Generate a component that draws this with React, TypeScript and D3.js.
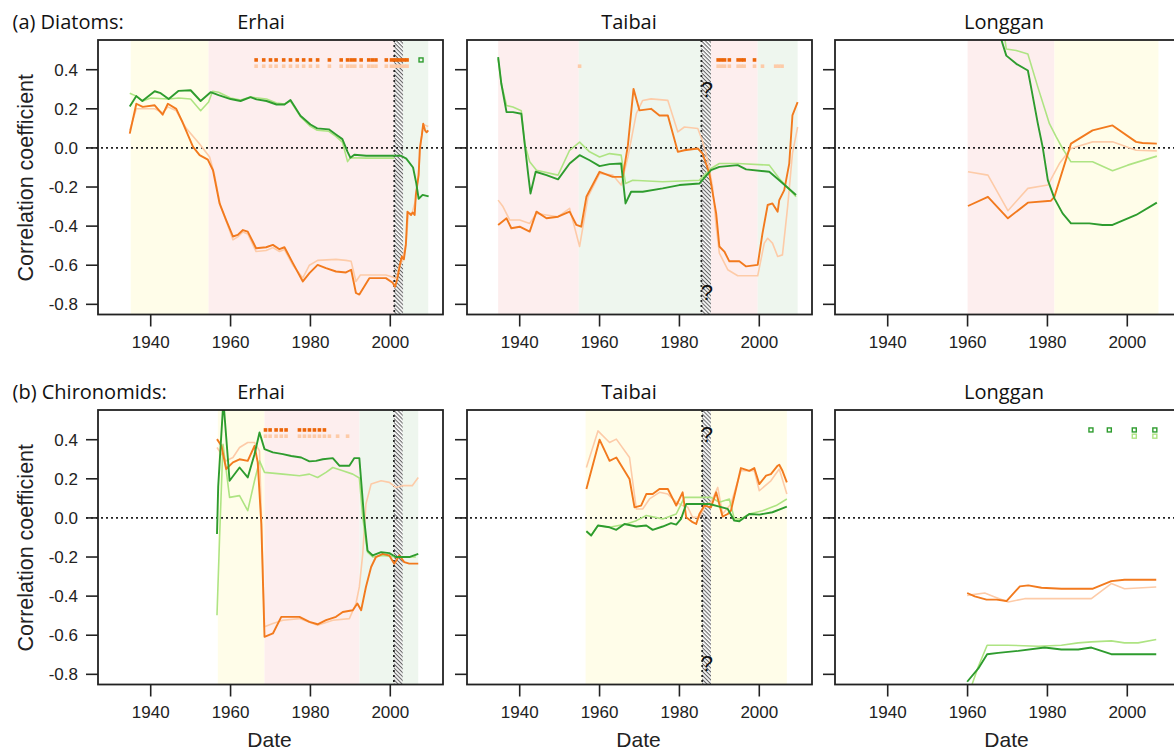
import React from 'react';
import * as d3 from 'd3';

type Pt = [number, number];
type Zone = [number, number, string];

// ---------- (a) Diatoms ----------
const aErhaiGreen: Pt[] = [[1934.75,0.212],[1936.4,0.265],[1937.9,0.24],[1941,0.29],[1942.5,0.28],[1944.5,0.25],[1947,0.292],[1950,0.295],[1952.5,0.24],[1955,0.285],[1957,0.27],[1960,0.25],[1962.5,0.24],[1965,0.26],[1966.5,0.248],[1969,0.24],[1971.5,0.222],[1973.5,0.222],[1975,0.245],[1977.5,0.165],[1980,0.12],[1981.7,0.1],[1984.6,0.095],[1986.3,0.07],[1988,0.045],[1989.3,-0.02],[1990,-0.05],[1991,-0.035],[1994,-0.04],[2000.6,-0.04],[2002.7,-0.04],[2004,-0.055],[2005.7,-0.1],[2006.5,-0.18],[2007.1,-0.26],[2008.1,-0.24],[2009.6,-0.248]];
const aErhaiGreenLight: Pt[] = [[1934.75,0.28],[1936.4,0.265],[1938,0.24],[1940,0.255],[1944.5,0.25],[1947,0.255],[1950,0.25],[1952.5,0.19],[1954.5,0.235],[1955.5,0.29],[1957,0.285],[1960,0.255],[1962.5,0.245],[1965,0.26],[1969,0.25],[1971.5,0.23],[1973.5,0.225],[1975,0.24],[1977.5,0.16],[1980,0.11],[1981.7,0.09],[1984.6,0.085],[1986.3,0.06],[1988,0.03],[1989.3,-0.07],[1990,-0.05],[1994,-0.052],[2001,-0.052]];
const aErhaiOrange: Pt[] = [[1934.75,0.073],[1936.4,0.226],[1938,0.21],[1941,0.218],[1943,0.17],[1944.3,0.226],[1946.4,0.2],[1948,0.13],[1950.6,0.005],[1952.25,-0.037],[1954.3,-0.06],[1955.6,-0.114],[1957.25,-0.284],[1958.9,-0.369],[1960.6,-0.453],[1961.8,-0.445],[1963.1,-0.42],[1964.3,-0.428],[1966.4,-0.513],[1968.9,-0.508],[1970.6,-0.496],[1972.25,-0.518],[1973.5,-0.508],[1975.6,-0.589],[1978.1,-0.683],[1979.75,-0.64],[1981.8,-0.598],[1983.9,-0.615],[1986.4,-0.632],[1988.9,-0.637],[1990.2,-0.623],[1991.4,-0.742],[1992.25,-0.75],[1994.75,-0.666],[1998.9,-0.666],[2000.6,-0.69],[2001.2,-0.71],[2001.8,-0.666],[2002.4,-0.598],[2002.9,-0.555],[2003.4,-0.57],[2003.9,-0.496],[2004.3,-0.326],[2005.2,-0.343],[2005.6,-0.33],[2006.1,-0.343],[2006.4,-0.24],[2007.1,-0.139],[2007.4,-0.003],[2007.9,0.065],[2008.25,0.124],[2008.7,0.09],[2009.1,0.08],[2009.5,0.09]];
const aErhaiOrangeLight: Pt[] = [[1934.75,0.09],[1936.4,0.2],[1938,0.2],[1941,0.2],[1943,0.18],[1944.3,0.21],[1946.4,0.19],[1948.9,0.1],[1952.25,0.02],[1954.75,-0.046],[1956,-0.14],[1957.5,-0.3],[1959,-0.38],[1960.6,-0.47],[1961.8,-0.455],[1963.1,-0.43],[1964.3,-0.44],[1966.4,-0.53],[1968.9,-0.525],[1970.6,-0.51],[1972.25,-0.53],[1973.5,-0.52],[1975.6,-0.6],[1978.1,-0.665],[1979.75,-0.6],[1981.8,-0.575],[1986.4,-0.57],[1988.9,-0.575],[1990.2,-0.58],[1991.4,-0.683],[1992.5,-0.65],[1998.9,-0.65],[2000.6,-0.66],[2001.5,-0.67],[2002.2,-0.61],[2003,-0.575],[2004,-0.48],[2004.5,-0.34],[2005.5,-0.33],[2006.3,-0.27],[2007.1,-0.12],[2007.6,0.02],[2008.3,0.12],[2009.5,0.11]];

const aTaibaiGreen: Pt[] = [[1934.6,0.464],[1935.4,0.328],[1936.7,0.183],[1938.3,0.183],[1940.4,0.175],[1941.25,0.022],[1942.1,-0.131],[1942.7,-0.233],[1944,-0.122],[1946.7,-0.139],[1949.6,-0.161],[1952.5,-0.08],[1955,-0.037],[1957.5,-0.063],[1960,-0.093],[1962.5,-0.083],[1965.4,-0.08],[1966.5,-0.284],[1967.9,-0.224],[1970.8,-0.224],[1975.8,-0.207],[1980,-0.19],[1985,-0.182],[1987.9,-0.114],[1990,-0.097],[1994.6,-0.088],[1996.7,-0.11],[2002.5,-0.122],[2005,-0.165],[2009.2,-0.241]];
const aTaibaiGreenLight: Pt[] = [[1934.6,0.455],[1935.4,0.328],[1936.7,0.217],[1938.3,0.209],[1940.4,0.19],[1941.25,0.022],[1942.5,-0.071],[1944.2,-0.114],[1949.6,-0.139],[1952.5,-0.012],[1955,0.03],[1957.5,-0.02],[1960,-0.046],[1962.5,-0.029],[1965.4,-0.037],[1966.5,-0.182],[1968.3,-0.165],[1975.8,-0.173],[1985,-0.165],[1987.9,-0.105],[1990,-0.08],[1994.6,-0.08],[2002.5,-0.088],[2005,-0.156],[2009.2,-0.25]];
const aTaibaiOrange: Pt[] = [[1934.6,-0.394],[1936.7,-0.36],[1937.9,-0.411],[1940,-0.403],[1942.5,-0.428],[1944.2,-0.326],[1946.7,-0.36],[1949.6,-0.352],[1952.5,-0.326],[1954.2,-0.394],[1955.4,-0.403],[1956.7,-0.25],[1960,-0.122],[1963.3,-0.148],[1965.8,-0.148],[1967.1,0.014],[1968.5,0.302],[1970,0.192],[1972.9,0.2],[1975,0.166],[1977.1,0.166],[1979.6,-0.02],[1981.25,-0.012],[1984.6,-0.003],[1985.8,-0.029],[1987.5,-0.131],[1989.2,-0.335],[1990,-0.504],[1991.25,-0.53],[1992.5,-0.58],[1995,-0.58],[1996.7,-0.606],[1999.6,-0.598],[2000.8,-0.437],[2002.1,-0.292],[2003.3,-0.284],[2004.6,-0.326],[2005,-0.267],[2006.25,-0.216],[2007.5,-0.08],[2008.3,0.166],[2009.6,0.234]];
const aTaibaiOrangeLight: Pt[] = [[1934.6,-0.267],[1935.8,-0.3],[1937.5,-0.369],[1940,-0.369],[1942.5,-0.386],[1944.2,-0.335],[1949.6,-0.352],[1952.5,-0.309],[1955,-0.504],[1957.1,-0.25],[1960,-0.131],[1963.3,-0.139],[1965.4,-0.19],[1967.1,-0.046],[1969.2,0.175],[1970.8,0.243],[1972.9,0.251],[1977.1,0.243],[1979.6,0.082],[1981.25,0.107],[1984.6,0.099],[1985.7,0.04],[1987.1,-0.063],[1988.3,-0.199],[1989.2,-0.403],[1990,-0.538],[1992.1,-0.623],[1994.6,-0.654],[1999.6,-0.654],[2001.25,-0.487],[2002.1,-0.462],[2003.3,-0.487],[2004.6,-0.555],[2005.8,-0.547],[2007.1,-0.3],[2008.3,-0.029],[2009.6,0.107]];

const aLongganGreen: Pt[] = [[1967.6,0.64],[1968.4,0.557],[1969.7,0.472],[1972.2,0.43],[1975.1,0.396],[1975.9,0.311],[1977.6,0.124],[1978.8,0.005],[1980.1,-0.165],[1981.75,-0.258],[1983.8,-0.335],[1985.9,-0.386],[1990.5,-0.386],[1993.8,-0.394],[1996.3,-0.394],[2002.2,-0.343],[2007.4,-0.28]];
const aLongganGreenLight: Pt[] = [[1968.9,0.62],[1969.7,0.506],[1972.2,0.498],[1975.1,0.48],[1977.6,0.311],[1980.5,0.124],[1982.2,0.056],[1983.8,-0.003],[1985.9,-0.071],[1991.3,-0.071],[1996.3,-0.117],[2000.1,-0.088],[2007.4,-0.042]];
const aLongganOrange: Pt[] = [[1960.1,-0.297],[1965.1,-0.25],[1970.1,-0.36],[1975.1,-0.28],[1980.9,-0.27],[1981.75,-0.25],[1985.9,0.022],[1991.3,0.09],[1996.3,0.115],[2002.2,0.031],[2003.8,0.025],[2007.4,0.022]];
const aLongganOrangeLight: Pt[] = [[1960.1,-0.122],[1965.1,-0.139],[1970.1,-0.321],[1975.1,-0.207],[1980.1,-0.19],[1983,-0.08],[1985.9,-0.003],[1991.3,0.031],[1996.3,0.031],[2002.2,-0.012],[2007.4,-0.015]];

// ---------- (b) Chironomids ----------
const bErhaiGreen: Pt[] = [[1956.6,-0.082],[1956.9,0.16],[1958.2,0.6],[1959.75,0.19],[1962.25,0.258],[1964.3,0.207],[1966,0.326],[1967.25,0.437],[1968.5,0.352],[1970.6,0.335],[1973.1,0.326],[1975.2,0.317],[1977.7,0.309],[1979.75,0.289],[1981.4,0.292],[1983.1,0.3],[1985.6,0.306],[1987.25,0.267],[1989.75,0.267],[1991,0.306],[1992.25,0.306],[1992.7,0.19],[1993.5,-0.014],[1994.3,-0.167],[1995.6,-0.192],[1997.7,-0.175],[1999.75,-0.18],[2001.4,-0.2],[2004.75,-0.2],[2007,-0.184]];
const bErhaiGreenLight: Pt[] = [[1956.6,-0.498],[1957.25,-0.099],[1958.1,0.377],[1959.75,0.105],[1962.25,0.114],[1964.3,0.037],[1966,0.19],[1967.25,0.292],[1968.5,0.233],[1973.1,0.224],[1977.25,0.216],[1979.75,0.224],[1981.8,0.207],[1983.9,0.233],[1985.6,0.258],[1988.1,0.241],[1990.6,0.224],[1992.25,0.204],[1993.1,0.003],[1994.3,-0.175],[1995.6,-0.2],[1998.1,-0.192],[2001.4,-0.2],[2006.4,-0.2]];
const bErhaiOrange: Pt[] = [[1956.6,0.403],[1957.7,0.369],[1958.9,0.25],[1960.6,0.284],[1962.25,0.3],[1964.3,0.292],[1966,0.369],[1966.8,0.284],[1967.7,-0.031],[1968.5,-0.608],[1970.6,-0.591],[1972.7,-0.506],[1977.25,-0.506],[1979.75,-0.532],[1981.8,-0.544],[1983.9,-0.523],[1986.4,-0.506],[1988.1,-0.481],[1990.6,-0.472],[1991.75,-0.438],[1992.7,-0.472],[1993.9,-0.353],[1995.2,-0.251],[1996.4,-0.2],[1998.1,-0.184],[1999.75,-0.192],[2001,-0.234],[2002.25,-0.192],[2003.5,-0.226],[2004.75,-0.234],[2007,-0.234]];
const bErhaiOrangeLight: Pt[] = [[1956.6,0.36],[1958.9,0.292],[1960.6,0.309],[1962.25,0.36],[1964.3,0.386],[1966,0.386],[1967.25,0.343],[1968.5,-0.557],[1970.6,-0.54],[1973.1,-0.523],[1977.25,-0.515],[1981.8,-0.549],[1985.6,-0.523],[1989.75,-0.515],[1991.4,-0.438],[1992.25,-0.353],[1993.1,-0.184],[1993.9,0.071],[1995.2,0.173],[1997.7,0.19],[1999.75,0.182],[2001.4,0.156],[2003,0.165],[2005.5,0.165],[2007,0.207]];

const bTaibaiGreen: Pt[] = [[1956.7,-0.068],[1957.9,-0.09],[1959.6,-0.039],[1962.5,-0.048],[1964.2,-0.061],[1966.25,-0.031],[1969.2,-0.044],[1971.7,-0.039],[1973.3,-0.061],[1975.8,-0.044],[1977.9,-0.027],[1979.2,-0.034],[1980.4,-0.005],[1981.7,0.071],[1984.2,0.071],[1987.5,0.071],[1990,0.058],[1992.1,0.046],[1993.75,-0.014],[1995,-0.017],[1997.5,0.02],[2000,0.017],[2003.3,0.029],[2006.9,0.058]];
const bTaibaiGreenLight: Pt[] = [[1956.7,-0.068],[1957.9,-0.09],[1959.6,-0.039],[1962.5,-0.048],[1966.7,-0.031],[1969.2,-0.014],[1971.7,0.012],[1975.8,-0.005],[1979.2,0.02],[1981.25,0.105],[1984.2,0.105],[1987.9,0.105],[1990,0.08],[1992.5,0.097],[1993.75,-0.005],[1995.4,-0.005],[1997.5,0.02],[2000.8,0.037],[2004.2,0.063],[2006.9,0.097]];
const bTaibaiOrange: Pt[] = [[1956.7,0.148],[1960,0.4],[1962.5,0.292],[1964.2,0.309],[1967.5,0.199],[1968.75,0.054],[1970.4,0.063],[1971.7,0.122],[1973.3,0.122],[1975,0.148],[1977.1,0.148],[1979.2,0.063],[1980.8,0.131],[1981.7,0.003],[1983.3,-0.022],[1984.2,-0.031],[1985,0.02],[1986.25,0.063],[1987.9,0.054],[1989.2,0.131],[1990.8,0.007],[1992.1,0.02],[1992.9,0.037],[1995.4,0.255],[1997.5,0.241],[1998.75,0.255],[2000,0.173],[2001.7,0.216],[2002.9,0.224],[2004.6,0.267],[2005,0.272],[2005.8,0.241],[2006.9,0.182]];
const bTaibaiOrangeLight: Pt[] = [[1956.7,0.258],[1959.6,0.445],[1962.5,0.386],[1964.2,0.403],[1967.5,0.309],[1969.2,0.046],[1970.8,0.046],[1972.5,0.097],[1975,0.131],[1977.1,0.122],[1979.2,0.08],[1980.8,0.063],[1982.1,0.054],[1983.3,0.003],[1985,0.003],[1986.7,0.071],[1987.9,0.08],[1989.6,0.156],[1990.8,0.02],[1992.9,0.071],[1995.4,0.241],[1998.75,0.241],[2000,0.139],[2002.9,0.19],[2005,0.25],[2006.9,0.122]];

const bLongganGreen: Pt[] = [[1959.9,-0.838],[1962.7,-0.77],[1964.9,-0.697],[1967.7,-0.69],[1972.7,-0.68],[1979.3,-0.663],[1983.5,-0.673],[1987.7,-0.673],[1991,-0.663],[1996,-0.697],[2007.25,-0.697]];
const bLongganGreenLight: Pt[] = [[1960.8,-0.87],[1962.7,-0.76],[1964.9,-0.651],[1970,-0.651],[1977.7,-0.656],[1983.5,-0.651],[1987.7,-0.639],[1991,-0.634],[1996,-0.629],[1999.3,-0.639],[2002.7,-0.639],[2007.25,-0.622]];
const bLongganOrange: Pt[] = [[1959.9,-0.384],[1961.8,-0.401],[1964.75,-0.418],[1967.25,-0.418],[1969.75,-0.425],[1973.1,-0.35],[1975.2,-0.345],[1978.5,-0.357],[1983.5,-0.362],[1991.4,-0.362],[1996,-0.323],[1999.3,-0.316],[2007.25,-0.316]];
const bLongganOrangeLight: Pt[] = [[1959.9,-0.396],[1964.3,-0.384],[1966.8,-0.404],[1970.2,-0.43],[1974.3,-0.413],[1978.5,-0.413],[1991,-0.413],[1996,-0.336],[1999.3,-0.362],[2007.25,-0.353]];

// background periods
const aErhaiZones: Zone[] = [[1935, 1954.5, 'yellow'], [1954.5, 2001, 'pink'], [2003.2, 2009.5, 'green']];
const aTaibaiZones: Zone[] = [[1934.6, 1954.8, 'pink'], [1954.8, 1985.5, 'green'], [1987.9, 1999.6, 'pink'], [1999.6, 2009.6, 'green']];
const aLongganZones: Zone[] = [[1960, 1981.75, 'pink'], [1981.75, 2007.8, 'yellow']];
const bErhaiZones: Zone[] = [[1956.8, 1968.5, 'yellow'], [1968.5, 1992.3, 'pink'], [1992.3, 2007, 'green']];
const bTaibaiZones: Zone[] = [[1956.5, 2006.9, 'yellow']];
const bLongganZones: Zone[] = [];

// hatched (uncertain) intervals
const aErhaiHatch = [2001, 2003.2];
const aTaibaiHatch = [1985.5, 1987.9];
const bErhaiHatch = [2000.9, 2003.1];
const bTaibaiHatch = [1985.7, 1987.9];

// significance markers (years)
const aErhaiSigOrange = [1966.4, 1968.3, 1970, 1971.4, 1973.3, 1975, 1976.7, 1978.3, 1980, 1981.8, 1984.75, 1987.7, 1989.3, 1990.2, 1991.1, 1992.7, 1994.6, 1995.5, 1996.4, 1999, 2000.3, 2001.1, 2001.9, 2002.7, 2003.5, 2004.2];
const aErhaiSigOrangeLight = aErhaiSigOrange;
const aErhaiSigGreen = [2007.7];
const aTaibaiSigOrange = [1989.7, 1990.5, 1991.3, 1992.5, 1994.7, 1995.5, 1996.2, 1998.8];
const aTaibaiSigOrangeLight = [1955, 1989.7, 1990.5, 1991.3, 1992.5, 1994.7, 1995.5, 1996.2, 1998.8, 2000.8, 2004.1, 2004.9, 2005.7];
const bErhaiSigOrange = [1968.75, 1969.9, 1971.4, 1972.7, 1973.9, 1977.25, 1978.5, 1979.75, 1981, 1982.25, 1983.5];
const bErhaiSigOrangeLight = [1968.75, 1969.9, 1971.4, 1972.7, 1973.9, 1977.25, 1978.5, 1979.75, 1981, 1982.25, 1983.5, 1984.75, 1986.8, 1989.3];
const bLongganSigGreen = [1990.9, 1995.5, 2001.75, 2006.9];
const bLongganSigGreenLight = [2001.75, 2006.9];

// question marks [year, value]
const aTaibaiQuery: Pt[] = [[1986.9, 0.3], [1986.9, -0.74]];
const bTaibaiQuery: Pt[] = [[1986.9, 0.43], [1986.9, -0.745]];

const yTicks = [-0.8, -0.6, -0.4, -0.2, 0.0, 0.2, 0.4];
const xTicks = [1940, 1960, 1980, 2000];
const lakes = ['Erhai', 'Taibai', 'Longgan'];
const rowLabels = ['(a) Diatoms:', '(b) Chironomids:'];

const ORANGE = '#F27A1E';
const ORANGE_LIGHT = '#FDCBA8';
const ORANGE_MARK = '#EC6508';
const GREEN = '#2E9C2E';
const GREEN_LIGHT = '#AEE483';
const ZONE_FILL: Record<string, string> = { yellow: '#FFFDE9', pink: '#FDEEEE', green: '#EEF6EE' };
const AXIS = '#222';

const ROW_TOP = [40, 410];
const COL_LEFT = [98, 467, 835];
const PW = 345;
const PH = 274.5;
const TITLE_X = [261, 629, 1004];

type Sig = { years: number[]; level: number; color: string; hollow?: boolean };
type PanelDef = {
  row: number; col: number; zones: Zone[]; hatch: number[] | null;
  light: { data: Pt[]; color: string }[]; dark: { data: Pt[]; color: string }[];
  sig: Sig[]; query: Pt[];
};

const panels: PanelDef[] = [
  { row: 0, col: 0, zones: aErhaiZones, hatch: aErhaiHatch,
    light: [{ data: aErhaiOrangeLight, color: ORANGE_LIGHT }, { data: aErhaiGreenLight, color: GREEN_LIGHT }],
    dark: [{ data: aErhaiOrange, color: ORANGE }, { data: aErhaiGreen, color: GREEN }],
    sig: [{ years: aErhaiSigOrange, level: 0.45, color: ORANGE_MARK }, { years: aErhaiSigOrangeLight, level: 0.418, color: ORANGE_LIGHT }, { years: aErhaiSigGreen, level: 0.45, color: GREEN, hollow: true }],
    query: [] },
  { row: 0, col: 1, zones: aTaibaiZones, hatch: aTaibaiHatch,
    light: [{ data: aTaibaiOrangeLight, color: ORANGE_LIGHT }, { data: aTaibaiGreenLight, color: GREEN_LIGHT }],
    dark: [{ data: aTaibaiOrange, color: ORANGE }, { data: aTaibaiGreen, color: GREEN }],
    sig: [{ years: aTaibaiSigOrange, level: 0.45, color: ORANGE_MARK }, { years: aTaibaiSigOrangeLight, level: 0.418, color: ORANGE_LIGHT }],
    query: aTaibaiQuery },
  { row: 0, col: 2, zones: aLongganZones, hatch: null,
    light: [{ data: aLongganOrangeLight, color: ORANGE_LIGHT }, { data: aLongganGreenLight, color: GREEN_LIGHT }],
    dark: [{ data: aLongganOrange, color: ORANGE }, { data: aLongganGreen, color: GREEN }],
    sig: [], query: [] },
  { row: 1, col: 0, zones: bErhaiZones, hatch: bErhaiHatch,
    light: [{ data: bErhaiOrangeLight, color: ORANGE_LIGHT }, { data: bErhaiGreenLight, color: GREEN_LIGHT }],
    dark: [{ data: bErhaiOrange, color: ORANGE }, { data: bErhaiGreen, color: GREEN }],
    sig: [{ years: bErhaiSigOrange, level: 0.45, color: ORANGE_MARK }, { years: bErhaiSigOrangeLight, level: 0.418, color: ORANGE_LIGHT }],
    query: [] },
  { row: 1, col: 1, zones: bTaibaiZones, hatch: bTaibaiHatch,
    light: [{ data: bTaibaiOrangeLight, color: ORANGE_LIGHT }, { data: bTaibaiGreenLight, color: GREEN_LIGHT }],
    dark: [{ data: bTaibaiOrange, color: ORANGE }, { data: bTaibaiGreen, color: GREEN }],
    sig: [], query: bTaibaiQuery },
  { row: 1, col: 2, zones: bLongganZones, hatch: null,
    light: [{ data: bLongganOrangeLight, color: ORANGE_LIGHT }, { data: bLongganGreenLight, color: GREEN_LIGHT }],
    dark: [{ data: bLongganOrange, color: ORANGE }, { data: bLongganGreen, color: GREEN }],
    sig: [{ years: bLongganSigGreen, level: 0.45, color: GREEN, hollow: true }, { years: bLongganSigGreenLight, level: 0.418, color: GREEN_LIGHT, hollow: true }],
    query: [] },
];

const TICK_FONT = '"Liberation Sans", Arial, sans-serif';
const TITLE_FONT = '"Open Sans", "Noto Sans", sans-serif';

function Panel({ p, i }: { p: PanelDef; i: number }) {
  const left = COL_LEFT[p.col];
  const top = ROW_TOP[p.row];
  // R-style 4% axis extension around xlim c(1930, 2010), ylim c(-0.8, 0.5)
  const x = d3.scaleLinear().domain([1926.8, 2013.2]).range([left, left + PW]);
  const y = d3.scaleLinear().domain([-0.852, 0.552]).range([top + PH, top]);
  const line = d3.line<Pt>().x(d => x(d[0])).y(d => y(d[1]));
  const clipId = `clip${i}`;
  const bottom = top + PH;

  return (
    <g>
      <defs>
        <clipPath id={clipId}>
          <rect x={left} y={top} width={PW} height={PH} />
        </clipPath>
      </defs>
      <g clipPath={`url(#${clipId})`}>
        {p.zones.map((z, k) => (
          <rect key={k} x={x(z[0])} y={top} width={x(z[1]) - x(z[0])} height={PH} fill={ZONE_FILL[z[2]]} />
        ))}
        {p.hatch && (
          <rect x={x(p.hatch[0])} y={top} width={x(p.hatch[1]) - x(p.hatch[0])} height={PH} fill="url(#hatch)" />
        )}
        <line x1={left - 12} x2={left + PW} y1={y(0)} y2={y(0)} stroke={AXIS} strokeWidth={1.8} strokeDasharray="2 3" />
        {p.hatch && (
          <line x1={x(p.hatch[0])} x2={x(p.hatch[0])} y1={top} y2={bottom} stroke={AXIS} strokeWidth={1.8} strokeDasharray="2 3" />
        )}
        {p.light.map((s, k) => (
          <path key={'l' + k} d={line(s.data) || ''} fill="none" stroke={s.color} strokeWidth={1.6} strokeLinejoin="round" />
        ))}
        {p.dark.map((s, k) => (
          <path key={'d' + k} d={line(s.data) || ''} fill="none" stroke={s.color} strokeWidth={1.9} strokeLinejoin="round" />
        ))}
        {p.sig.map((s, k) => s.years.map((yr, j) => (
          s.hollow
            ? <rect key={k + '-' + j} x={x(yr) - 2} y={y(s.level) - 2} width={4} height={4} fill="none" stroke={s.color} strokeWidth={1.4} />
            : <rect key={k + '-' + j} x={x(yr) - 1.8} y={y(s.level) - 1.8} width={3.6} height={3.6} fill={s.color} />
        )))}
        {p.query.map((q, k) => (
          <text key={'q' + k} x={x(q[0])} y={y(q[1])} dy="0.35em" textAnchor="middle" fontFamily={TICK_FONT}
            fontSize={22} fill="#111">?</text>
        ))}
      </g>
      {/* the zero line also runs across the tick area */}
      <line x1={left - 12} x2={left} y1={y(0)} y2={y(0)} stroke={AXIS} strokeWidth={1.8} strokeDasharray="2 3" />
      <rect x={left} y={top} width={PW} height={PH} fill="none" stroke={AXIS} strokeWidth={1.8} />
      {yTicks.map(t => (
        <g key={'yt' + t}>
          <line x1={left - 12} x2={left} y1={y(t)} y2={y(t)} stroke={AXIS} strokeWidth={1.6} />
          {p.col === 0 && (
            <text x={left - 20} y={y(t)} dy="0.36em" textAnchor="end" fontFamily={TICK_FONT} fontSize={17} fill="#222">
              {t.toFixed(1)}
            </text>
          )}
        </g>
      ))}
      {xTicks.map(t => (
        <g key={'xt' + t}>
          <line x1={x(t)} x2={x(t)} y1={bottom} y2={bottom + 12} stroke={AXIS} strokeWidth={1.6} />
          <text x={x(t)} y={bottom + 33.5} textAnchor="middle" fontFamily={TICK_FONT} fontSize={17} fill="#222">{t}</text>
        </g>
      ))}
      {p.row === 1 && (
        <text x={left + PW / 2 - 1} y={747} textAnchor="middle" fontFamily={TICK_FONT} fontSize={21} fill="#222">Date</text>
      )}
      {p.col === 0 && (
        <text transform={`translate(33,${top + PH / 2 + 0.5}) rotate(-90)`} textAnchor="middle" fontFamily={TICK_FONT} fontSize={21.5} fill="#222">
          Correlation coefficient
        </text>
      )}
      <text x={TITLE_X[p.col]} y={top - 11} textAnchor="middle" fontFamily={TITLE_FONT} fontSize={20} fill="#111">
        {lakes[p.col]}
      </text>
    </g>
  );
}

export default function App() {
  return (
    <svg width={1174} height={750} style={{ position: 'absolute', left: 0, top: 0, background: '#fff' }}>
      <defs>
        <pattern id="hatch" width={2.8} height={2.8} patternUnits="userSpaceOnUse" patternTransform="rotate(45)">
          <rect width={2.8} height={2.8} fill="#fff" />
          <line x1={0} y1={0.6} x2={2.8} y2={0.6} stroke="#555" strokeWidth={1} />
        </pattern>
      </defs>
      <rect width={1174} height={750} fill="#fff" />
      {rowLabels.map((t, r) => (
        <text key={t} x={12.5} y={ROW_TOP[r] - 11} fontFamily={TITLE_FONT} fontSize={20} fill="#111">{t}</text>
      ))}
      {panels.map((p, i) => <Panel key={i} p={p} i={i} />)}
    </svg>
  );
}
